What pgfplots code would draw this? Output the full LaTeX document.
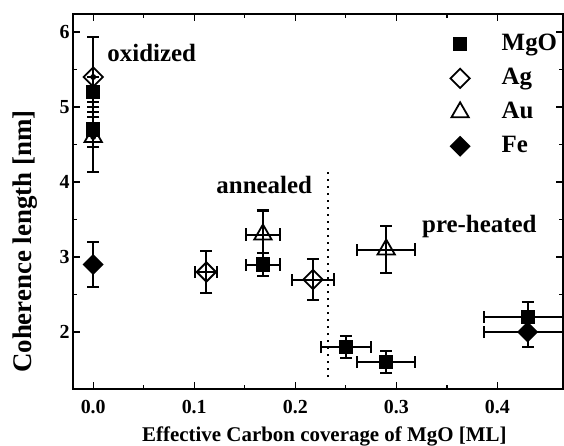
\documentclass[border=0pt]{standalone}
\usepackage{pgfplots}
\pgfplotsset{compat=1.18}
\usepackage{fontspec}
\setmainfont{Liberation Serif}

% columns: x, y, x error, y error
\pgfplotstableread{
x      y     ex     ey
0.168  2.90  0.017  0.15
0.250  1.80  0.025  0.15
0.290  1.60  0.029  0.15
0.430  2.20  0.043  0.20
}\mgo
\pgfplotstableread{
x      y     ex     ey
0.112  2.80  0.011  0.28
0.2175 2.70  0.021  0.27
}\ag
\pgfplotstableread{
x      y     ex     ey
0.168  3.30  0.017  0.32
0.290  3.10  0.029  0.31
}\au
\pgfplotstableread{
x      y     ex     ey
0.430  2.00  0.043  0.20
}\fe
% oxidized samples, no error in x
\pgfplotstableread{
x   y     ey
0   5.20  0.20
0   4.70  0.23
}\mgoox
\pgfplotstableread{
x   y     ey
0   5.40  0.53
}\agox
\pgfplotstableread{
x   y     ey
0   4.60  0.47
}\auox
\pgfplotstableread{
x   y     ey
0   2.90  0.30
}\feox

\begin{document}
\begin{tikzpicture}
\begin{axis}[
    scale only axis,
    width=490bp, height=375bp,
    xmin=-0.02, xmax=0.465,
    ymin=1.24, ymax=6.24,
    axis line style={line width=1.6bp},
    every tick/.style={black, line width=1.4bp},
    major tick length=7bp, minor tick length=4.5bp,
    xtick={0,0.1,0.2,0.3,0.4}, minor x tick num=1,
    ytick={2,3,4,5,6}, minor y tick num=1,
    xticklabel style={/pgf/number format/fixed, /pgf/number format/fixed zerofill, /pgf/number format/precision=1, yshift=-8bp},
    /pgf/number format/assume math mode=true,
    tick label style={font=\fontsize{20}{20}\selectfont\bfseries},
    xlabel={Effective Carbon coverage of MgO [ML]},
    ylabel={Coherence length [nm]},
    xlabel style={font=\fontsize{21}{21}\selectfont\bfseries, at={(rel axis cs:0.513,-0.1413)}, anchor=base},
    ylabel style={font=\fontsize{27}{27}\selectfont\bfseries, at={(rel axis cs:-0.097,0.393)}, anchor=center},
    legend style={at={(rel axis cs:0.770,0.949)}, anchor=north west, draw=none, fill=none,
        inner sep=0pt, row sep=12bp,
        /tikz/every odd column/.append style={column sep=32bp},
        nodes={inner sep=0pt, text height=17bp, text depth=5bp},
        font=\fontsize{25}{25}\selectfont\bfseries},
    legend cell align=left,
    every axis plot/.append style={line width=1.8bp},
    error bars/error bar style={line width=2bp},
    error bars/error mark options={line width=2bp, mark size=6bp, rotate=90},
]
% dividing line between annealed and pre-heated
\addplot[forget plot, line width=2bp, dash pattern=on 2bp off 5bp] coordinates {(0.232,1.4) (0.232,4.2)};

\addplot[forget plot, only marks, mark=none, error bars/.cd, y dir=both, y explicit] table[x=x, y=y, y error=ey] {\auox};
\addplot[forget plot, only marks, mark=none, error bars/.cd, y dir=both, y explicit] table[x=x, y=y, y error=ey] {\agox};
\addplot[forget plot, only marks, mark=none, error bars/.cd, y dir=both, y explicit] table[x=x, y=y, y error=ey] {\mgoox};
\addplot[forget plot, only marks, mark=none, error bars/.cd, y dir=both, y explicit] table[x=x, y=y, y error=ey] {\feox};

\addplot[only marks, mark=square*, mark size=6.2bp, mark options={fill=black}, error bars/.cd, x dir=both, x explicit, y dir=both, y explicit]
    table[x=x, y=y, x error=ex, y error=ey] {\mgo};
\addplot[only marks, mark=square, mark size=6.8bp, mark options={fill=white, rotate=45}, error bars/.cd, x dir=both, x explicit, y dir=both, y explicit]
    table[x=x, y=y, x error=ex, y error=ey] {\ag};
\addplot[only marks, mark=triangle, mark size=10bp, mark options={fill=white}, error bars/.cd, x dir=both, x explicit, y dir=both, y explicit]
    table[x=x, y=y, x error=ex, y error=ey] {\au};
\addplot[only marks, mark=square*, mark size=6.5bp, mark options={fill=black, rotate=45}, error bars/.cd, x dir=both, x explicit, y dir=both, y explicit]
    table[x=x, y=y, x error=ex, y error=ey] {\fe};

% oxidized markers on top of their error bars
\addplot[forget plot, only marks, mark=triangle, mark size=10bp, mark options={fill=white}] table[x=x, y=y] {\auox};
\addplot[forget plot, only marks, mark=square*, mark size=6.2bp, mark options={fill=black}] table[x=x, y=y] {\mgoox};
\addplot[forget plot, only marks, mark=square, mark size=6.8bp, mark options={fill=white, rotate=45}] table[x=x, y=y] {\agox};
\addplot[forget plot, only marks, mark=square*, mark size=6.5bp, mark options={fill=black, rotate=45}] table[x=x, y=y] {\feox};

\legend{MgO, Ag, Au, Fe}

\node[anchor=base west, font=\fontsize{25}{25}\selectfont\bfseries, inner sep=0pt] at (axis cs:0.0139,5.6) {oxidized};
\node[anchor=base west, font=\fontsize{25}{25}\selectfont\bfseries, inner sep=0pt] at (axis cs:0.1218,3.84) {annealed};
\node[anchor=base west, font=\fontsize{25}{25}\selectfont\bfseries, inner sep=0pt] at (axis cs:0.3254,3.32) {pre-heated};
\end{axis}
\pgfresetboundingbox
\useasboundingbox (-73bp,-57bp) rectangle (491bp,389bp);
\end{tikzpicture}
\end{document}
